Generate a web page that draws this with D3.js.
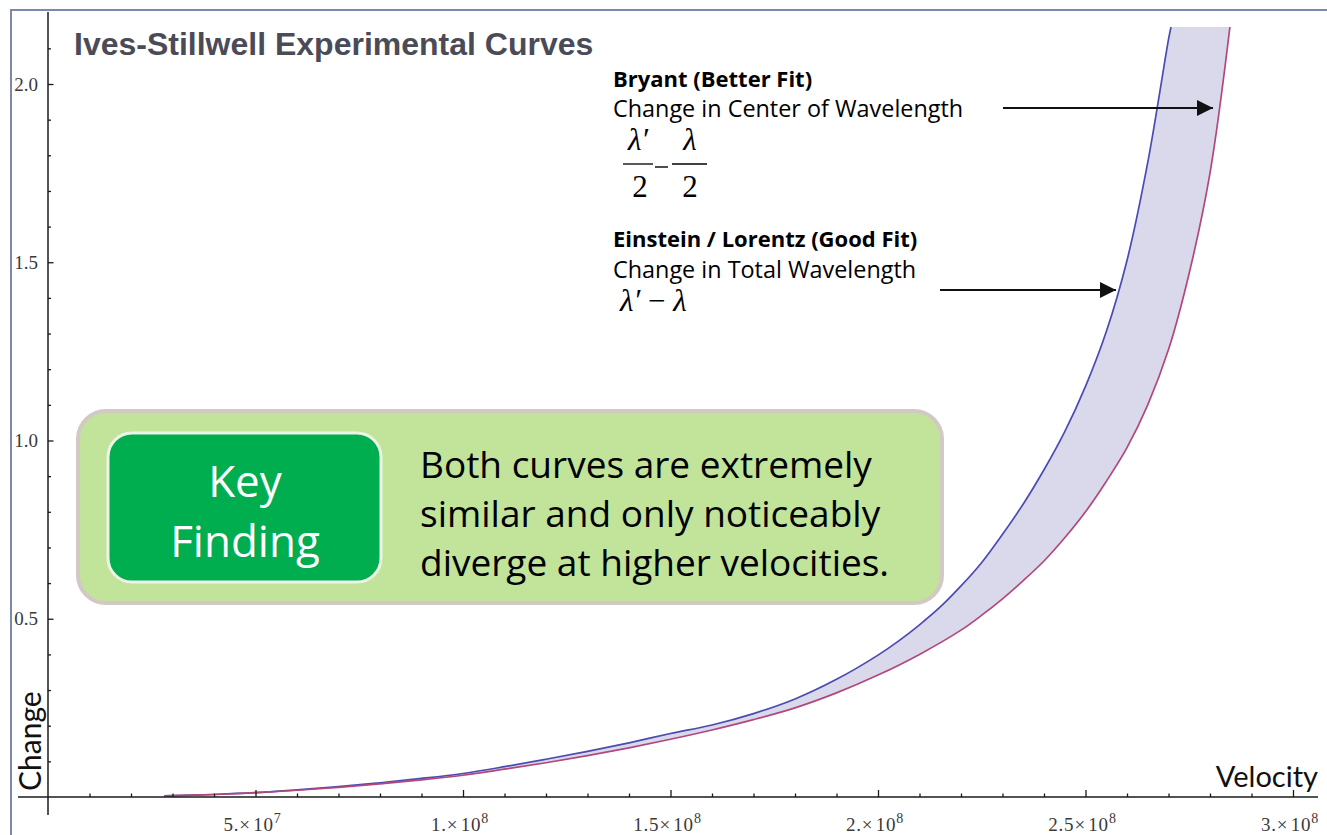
<!DOCTYPE html>
<html>
<head>
<meta charset="utf-8">
<script src="https://cdn.jsdelivr.net/npm/d3@7"></script>
<style>
  html, body { margin: 0; padding: 0; background: #fff; }
  svg { display: block; }
</style>
</head>
<body>
<div id="chart"></div>
<script>
// Ives-Stillwell experimental curves, two series

// velocity in m/s, change in wavelength units
const bryantVelocity = [2.8e7, 4e7, 5e7, 6e7, 7e7, 8e7, 9e7, 10e7, 11e7, 12e7, 13e7, 14e7, 15e7, 16e7,
  17e7, 18e7, 19e7, 20e7, 20.5e7, 21e7, 21.5e7, 22e7, 22.5e7, 23e7, 23.5e7, 24e7, 24.5e7, 25e7,
  25.5e7, 26e7, 26.5e7, 27e7, 27.06e7];
const bryantChange = [0.003, 0.007, 0.012, 0.020, 0.029, 0.040, 0.052, 0.066, 0.085, 0.106, 0.128, 0.152, 0.178, 0.202,
  0.234, 0.275, 0.330, 0.398, 0.438, 0.483, 0.533, 0.592, 0.658, 0.737, 0.822, 0.918, 1.025, 1.152,
  1.305, 1.505, 1.780, 2.125, 2.160];

const einsteinVelocity = [2.8e7, 4e7, 5e7, 6e7, 7e7, 8e7, 9e7, 10e7, 11e7, 12e7, 13e7, 14e7, 15e7, 16e7,
  17e7, 18e7, 19e7, 20e7, 21e7, 22e7, 22.5e7, 23e7, 23.5e7, 24e7, 24.5e7, 25e7, 25.5e7, 26e7,
  26.5e7, 27e7, 27.5e7, 28e7, 28.48e7];
const einsteinChange = [0.003, 0.007, 0.012, 0.019, 0.027, 0.037, 0.048, 0.061, 0.078, 0.096, 0.116, 0.138, 0.162, 0.188,
  0.217, 0.250, 0.292, 0.342, 0.400, 0.468, 0.510, 0.556, 0.607, 0.662, 0.727, 0.800, 0.885, 0.980,
  1.100, 1.255, 1.470, 1.750, 2.160];

const xTickValues = [5e7, 1e8, 1.5e8, 2e8, 2.5e8, 3e8];
const xTickMantissa = ['5.', '1.', '1.5', '2.', '2.5', '3.'];
const xTickExponent = ['7', '8', '8', '8', '8', '8'];
const xMinorTicks = d3.range(1e7, 3.1e8, 1e7).filter(v => Math.round(v / 1e7) % 5 !== 0);

const yTickValues = [0.5, 1.0, 1.5, 2.0];
const yTickLabels = ['0.5', '1.0', '1.5', '2.0'];
const yMinorTicks = [0.1, 0.2, 0.3, 0.4, 0.6, 0.7, 0.8, 0.9, 1.1, 1.2, 1.3, 1.4, 1.6, 1.7, 1.8, 1.9, 2.1];

const findingLines = ['Both curves are extremely', 'similar and only noticeably', 'diverge at higher velocities.'];

const W = 1327, H = 835;
const COLORS = {
  bryant: '#4b4bb0',
  einstein: '#b3477d',
  band: '#d9d9eb',
  frame: '#7c87ad',
  axis: '#1a1a1a',
};
const SERIF = "'Liberation Serif', 'Times New Roman', serif";
const GILL = "Lato, 'Open Sans', sans-serif";      // stands in for Gill Sans
const BODY = "'Open Sans', 'Noto Sans', sans-serif"; // stands in for Calibri

const svg = d3.select('#chart').append('svg')
  .attr('width', W)
  .attr('height', H)
  .attr('viewBox', `0 0 ${W} ${H}`);

svg.append('rect').attr('width', W).attr('height', H).attr('fill', '#fff');

const x = d3.scaleLinear().domain([0, 3e8]).range([48, 1293]);
const y = d3.scaleLinear().domain([0, 2.2]).range([797, 12.7]);

// clip the curves at the top of the plotted range
svg.append('clipPath').attr('id', 'plot-clip')
  .append('rect')
  .attr('x', x(0)).attr('y', y(2.16))
  .attr('width', x(3.1e8) - x(0)).attr('height', y(0) - y(2.16) + 2);

const bryant = bryantVelocity.map((v, i) => [v, bryantChange[i]]);
const einstein = einsteinVelocity.map((v, i) => [v, einsteinChange[i]]);

const line = d3.line()
  .x(d => x(d[0]))
  .y(d => y(d[1]))
  .curve(d3.curveCatmullRom.alpha(0.5));

const plot = svg.append('g').attr('clip-path', 'url(#plot-clip)');

// shaded band between the two curves
const bandPath = line(bryant) + 'L' + line(einstein.slice().reverse()).slice(1) + 'Z';
plot.append('path')
  .attr('d', bandPath)
  .attr('fill', COLORS.band)
  .attr('stroke', 'none');

plot.append('path')
  .attr('d', line(bryant))
  .attr('fill', 'none')
  .attr('stroke', COLORS.bryant)
  .attr('stroke-width', 1.7);

plot.append('path')
  .attr('d', line(einstein))
  .attr('fill', 'none')
  .attr('stroke', COLORS.einstein)
  .attr('stroke-width', 1.7);

// x axis
const xAxisG = svg.append('g').attr('transform', `translate(0,${y(0)})`);
xAxisG.append('line')
  .attr('x1', 18).attr('x2', 1318)
  .attr('stroke', COLORS.axis).attr('stroke-width', 1.5);

xAxisG.append('g')
  .call(d3.axisBottom(x).tickValues(xMinorTicks).tickSizeInner(-3.5).tickSizeOuter(0).tickFormat(''))
  .call(g => g.select('.domain').remove())
  .call(g => g.selectAll('line').attr('stroke', COLORS.axis).attr('stroke-width', 1.3));

xAxisG.append('g')
  .call(d3.axisBottom(x).tickValues(xTickValues).tickSizeInner(-7).tickSizeOuter(0).tickFormat(''))
  .call(g => g.select('.domain').remove())
  .call(g => g.selectAll('line').attr('stroke', COLORS.axis).attr('stroke-width', 1.3));

const xLabels = xAxisG.selectAll('text.xlab')
  .data(xTickValues)
  .join('text')
  .attr('class', 'xlab')
  .attr('x', d => x(d) - 3)
  .attr('y', 34)
  .attr('text-anchor', 'middle')
  .attr('font-family', SERIF)
  .attr('font-size', 19)
  .attr('letter-spacing', 0.8)
  .attr('fill', '#3a3a3a');
xLabels.append('tspan').text((d, i) => xTickMantissa[i] + '\u00d7\u200a10');
xLabels.append('tspan')
  .attr('dy', -8)
  .attr('font-size', 14)
  .text((d, i) => xTickExponent[i]);

// y axis
const yAxisG = svg.append('g').attr('transform', `translate(${x(0)},0)`);
yAxisG.append('line')
  .attr('y1', 12).attr('y2', 815)
  .attr('stroke', COLORS.axis).attr('stroke-width', 1.5);

yAxisG.append('g')
  .call(d3.axisLeft(y).tickValues(yMinorTicks).tickSizeInner(-3).tickSizeOuter(0).tickFormat(''))
  .call(g => g.select('.domain').remove())
  .call(g => g.selectAll('line').attr('stroke', COLORS.axis).attr('stroke-width', 1.3));

yAxisG.append('g')
  .call(d3.axisLeft(y).tickValues(yTickValues).tickSizeInner(-5.5).tickSizeOuter(0)
    .tickPadding(10).tickFormat((d, i) => yTickLabels[i]))
  .call(g => g.select('.domain').remove())
  .call(g => g.selectAll('line').attr('stroke', COLORS.axis).attr('stroke-width', 1.3))
  .call(g => g.selectAll('text')
    .attr('x', -10)
    .attr('font-family', SERIF)
    .attr('font-size', 19)
    .attr('fill', '#3a3a3a'));

// axis titles
svg.append('text')
  .attr('x', 1318).attr('y', 787)
  .attr('text-anchor', 'end')
  .attr('font-family', GILL)
  .attr('font-size', 29)
  .attr('fill', '#111')
  .text('Velocity');

svg.append('text')
  .attr('transform', 'translate(41,791) rotate(-90)')
  .attr('font-family', GILL)
  .attr('font-size', 30)
  .attr('fill', '#111')
  .text('Change');

// frame lines (top and left)
svg.append('path')
  .attr('d', `M11,${H}V10H${W}`)
  .attr('fill', 'none')
  .attr('stroke', COLORS.frame)
  .attr('stroke-width', 2);

// title
svg.append('text')
  .attr('x', 74).attr('y', 55)
  .attr('font-family', "'Liberation Sans', Arial, sans-serif")
  .attr('font-weight', 'bold')
  .attr('font-size', 32)
  .attr('fill', '#4b4b58')
  .text('Ives-Stillwell Experimental Curves');

// annotations
const notes = svg.append('g').attr('font-family', BODY).attr('fill', '#000');
notes.append('text').attr('x', 613).attr('y', 87).attr('font-size', 22).attr('font-weight', 'bold')
  .text('Bryant (Better Fit)');
notes.append('text').attr('x', 613).attr('y', 117).attr('font-size', 23.4)
  .text('Change in Center of Wavelength');
notes.append('text').attr('x', 613).attr('y', 247).attr('font-size', 22).attr('font-weight', 'bold')
  .text('Einstein / Lorentz (Good Fit)');
notes.append('text').attr('x', 613).attr('y', 278).attr('font-size', 23.4)
  .text('Change in Total Wavelength');

// formulas
const math = svg.append('g').attr('font-family', SERIF).attr('font-size', 31).attr('fill', '#000');
math.append('text').attr('x', 638).attr('y', 150).attr('text-anchor', 'middle').attr('font-style', 'italic').text('\u03bb\u2032');
math.append('text').attr('x', 690).attr('y', 150).attr('text-anchor', 'middle').attr('font-style', 'italic').text('\u03bb');
math.append('text').attr('x', 640).attr('y', 197).attr('text-anchor', 'middle').text('2');
math.append('text').attr('x', 690).attr('y', 197).attr('text-anchor', 'middle').text('2');
math.append('line').attr('x1', 623).attr('x2', 653).attr('y1', 164).attr('y2', 164).attr('stroke', '#000').attr('stroke-width', 1.3);
math.append('line').attr('x1', 655).attr('x2', 668).attr('y1', 167).attr('y2', 167).attr('stroke', '#000').attr('stroke-width', 1.4);
math.append('line').attr('x1', 672).attr('x2', 707).attr('y1', 164).attr('y2', 164).attr('stroke', '#000').attr('stroke-width', 1.3);
const diff = math.append('text').attr('x', 620).attr('y', 311);
diff.append('tspan').attr('font-style', 'italic').text('\u03bb\u2032');
diff.append('tspan').text(' \u2212 ');
diff.append('tspan').attr('font-style', 'italic').text('\u03bb');

// arrows
svg.append('defs').append('marker')
  .attr('id', 'arrow')
  .attr('viewBox', '0 0 16 16')
  .attr('refX', 16).attr('refY', 8)
  .attr('markerWidth', 16).attr('markerHeight', 16)
  .attr('markerUnits', 'userSpaceOnUse')
  .attr('orient', 'auto')
  .append('path')
  .attr('d', 'M0,0L16,8L0,16Z')
  .attr('fill', '#111');

svg.append('line')
  .attr('x1', 1003).attr('x2', 1213).attr('y1', 108).attr('y2', 108)
  .attr('stroke', '#111').attr('stroke-width', 1.8)
  .attr('marker-end', 'url(#arrow)');
svg.append('line')
  .attr('x1', 940).attr('x2', 1116).attr('y1', 290).attr('y2', 290)
  .attr('stroke', '#111').attr('stroke-width', 1.8)
  .attr('marker-end', 'url(#arrow)');

// key finding call-out
const box = svg.append('g');
box.append('rect')
  .attr('x', 78).attr('y', 411).attr('width', 864).attr('height', 192).attr('rx', 28)
  .attr('fill', '#c1e49a').attr('stroke', '#d2c8c4').attr('stroke-width', 4);
box.append('rect')
  .attr('x', 108).attr('y', 433).attr('width', 273).attr('height', 149).attr('rx', 24)
  .attr('fill', '#00ad4f').attr('stroke', '#edf4e6').attr('stroke-width', 3);
box.append('text').attr('x', 245).attr('y', 497).attr('text-anchor', 'middle')
  .attr('font-family', BODY).attr('font-size', 44).attr('fill', '#fff').text('Key');
box.append('text').attr('x', 245).attr('y', 557).attr('text-anchor', 'middle')
  .attr('font-family', BODY).attr('font-size', 44).attr('fill', '#fff').text('Finding');
box.selectAll('text.finding')
  .data(findingLines)
  .join('text')
  .attr('class', 'finding')
  .attr('x', 420)
  .attr('y', (d, i) => 478 + i * 49)
  .attr('font-family', BODY)
  .attr('font-size', 37)
  .attr('fill', '#000')
  .text(d => d);
</script>
</body>
</html>
